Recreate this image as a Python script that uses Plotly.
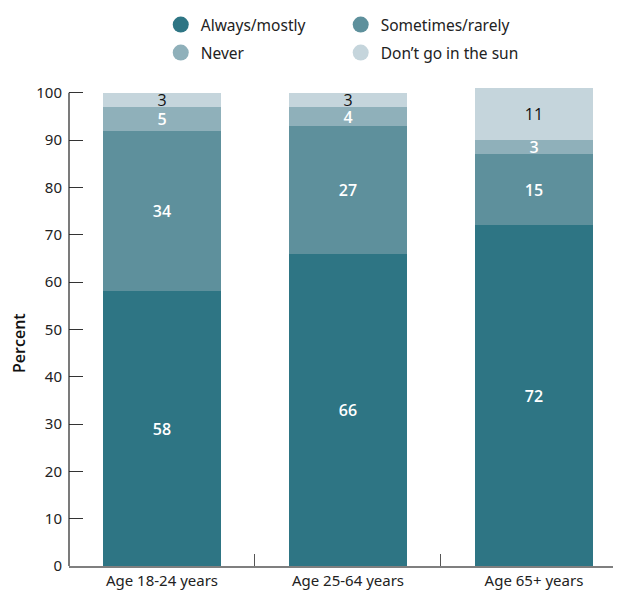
import plotly.graph_objects as go

categories = ["Age 18-24 years", "Age 25-64 years", "Age 65+ years"]
series_names = ["Always/mostly", "Sometimes/rarely", "Never", "Don\u2019t go in the sun"]
always_mostly = [58, 66, 72]
sometimes_rarely = [34, 27, 15]
never = [5, 4, 3]
dont_go = [3, 3, 11]
y_ticks = [0, 10, 20, 30, 40, 50, 60, 70, 80, 90, 100]

colors = ["#2E7584", "#5E909C", "#8FB0BA", "#C5D5DC"]
text_colors = ["white", "white", "white", "#111111"]
text_weights = [600, 600, 600, 400]
FONT = "Noto Sans"
LABEL_FONT = "Open Sans"

fig = go.Figure()
xpos = list(range(len(categories)))
for name, vals, col, tcol, tw in zip(series_names, [always_mostly, sometimes_rarely, never, dont_go],
                                      colors, text_colors, text_weights):
    fig.add_trace(go.Bar(
        x=xpos, y=vals, name=name, marker=dict(color=col, line=dict(width=0)),
        width=0.634, text=[str(v) for v in vals], textposition="inside",
        insidetextanchor="middle", textangle=0, constraintext="none",
        textfont=dict(family=LABEL_FONT, size=16, color=tcol, weight=tw),
        showlegend=False, hoverinfo="skip"))

# legend entries (circles), one legend per entry for exact 2x2 placement
legend_ids = ["legend", "legend2", "legend3", "legend4"]
for name, col, lid in zip(series_names, colors, legend_ids):
    fig.add_trace(go.Scatter(
        x=[None], y=[None], mode="markers", name=name,
        marker=dict(symbol="circle", size=16, color=col),
        legend=lid, showlegend=True))

leg_common = dict(orientation="h", xref="paper", yref="container", xanchor="left",
                  yanchor="top", font=dict(size=15.5, color="#222222"),
                  bgcolor="rgba(0,0,0,0)")
col_x = [0.1662, 0.4922]
row_y = [1.0, 0.9525]

fig.update_layout(
    width=613, height=589,
    margin=dict(l=61, r=0, t=79, b=31),
    plot_bgcolor="white", paper_bgcolor="white",
    barmode="stack", bargap=0,
    font=dict(family=FONT, size=15, color="#222222"),
    xaxis=dict(range=[-0.5, 2.468], tickvals=xpos, ticktext=categories,
               showline=True, linecolor="#7f7f7f", linewidth=1.5,
               ticks="", showgrid=False, zeroline=False,
               minor=dict(tickvals=[0.5, 1.5], ticks="inside", ticklen=12,
                          tickcolor="#555555", tickwidth=1, showgrid=False),
               tickfont=dict(size=15, color="#222222"), automargin=False),
    yaxis=dict(range=[0, 101.2], tickvals=y_ticks, ticks="inside", ticklen=14,
               tickcolor="#333333", tickwidth=1.2, showline=False, showgrid=False,
               zeroline=False, tickfont=dict(size=15, color="#222222"),
               ticklabelstandoff=6, automargin=False),
    legend=dict(x=col_x[0], y=row_y[0], **leg_common),
    legend2=dict(x=col_x[1], y=row_y[0], **leg_common),
    legend3=dict(x=col_x[0], y=row_y[1], **leg_common),
    legend4=dict(x=col_x[1], y=row_y[1], **leg_common),
    annotations=[dict(text="Percent", textangle=-90, xref="paper", yref="paper",
                      x=-0.0906, y=0.4656, xanchor="center", yanchor="middle",
                      showarrow=False,
                      font=dict(family=LABEL_FONT, size=16, color="#111111", weight=600))],
    shapes=[dict(type="line", xref="paper", yref="y", x0=0, x1=0, y0=0, y1=100,
                 line=dict(color="#222222", width=1.2))],
)

fig.write_html("out.html")
